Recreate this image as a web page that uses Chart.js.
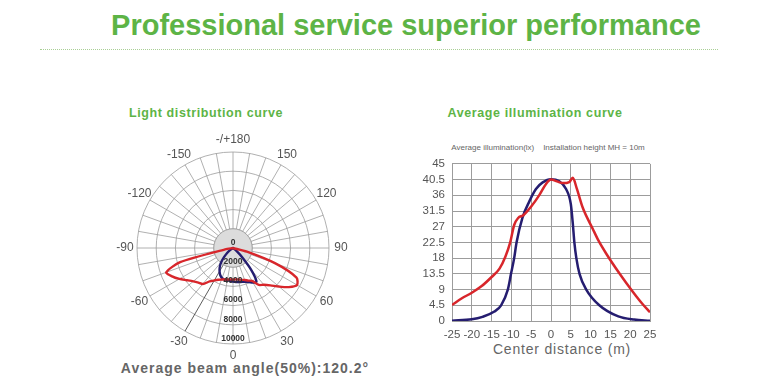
<!DOCTYPE html>
<html><head><meta charset="utf-8">
<script src="https://cdn.jsdelivr.net/npm/chart.js@4.4.1/dist/chart.umd.min.js"></script>
<style>
body{margin:0;width:780px;height:388px;background:#fff;position:relative;overflow:hidden;font-family:"Liberation Sans",Arial,sans-serif}
.t{position:absolute;white-space:pre;transform:translate(-50%,-50%);line-height:1}
#title{left:406px;top:25px;font-size:29px;font-weight:bold;color:#5db446}
#dots{position:absolute;left:40px;top:49px;width:678px;border-top:1px dotted #a9cf96}
.sub{font-size:12.5px;font-weight:bold;color:#5db446;letter-spacing:0.6px}
#note{left:548px;top:148px;font-size:8px;color:#666}
#xt{left:562px;top:349px;font-size:14px;color:#666;letter-spacing:0.8px}
#beam{left:245px;top:368px;font-size:14px;font-weight:bold;color:#666;letter-spacing:1px}
#polarBox{position:absolute;left:103px;top:128px;width:260px;height:240px}
#lineBox{position:absolute;left:400px;top:150px;width:265px;height:200px}
</style></head><body>
<div class="t" id="title">Professional service superior performance</div>
<div id="dots"></div>
<div class="t sub" style="left:206px;top:113px">Light distribution curve</div>
<div class="t sub" style="left:535px;top:113px">Average illumination curve</div>
<div class="t" id="note">Average illumination(lx)    Installation height MH = 10m</div>
<div class="t" id="xt">Center distance (m)</div>
<div class="t" id="beam">Average beam angle(50%):120.2°</div>
<div id="polarBox"><canvas id="polar" width="260" height="240"></canvas></div>
<div id="lineBox"><canvas id="line" width="265" height="200"></canvas></div>
<script>
// ---------- Light distribution (polar) data ----------
const angles = [180,175,170,165,160,155,150,145,140,135,130,125,120,115,110,105,100,95,90,85,80,75,70,65,60,55,50,45,40,35,30,25,20,15,10,5,0,-5,-10,-15,-20,-25,-30,-35,-40,-45,-50,-55,-60,-65,-70,-75,-80,-85,-90,-95,-100,-105,-110,-115,-120,-125,-130,-135,-140,-145,-150,-155,-160,-165,-170,-175];
const angleTickLabels = ['-/+180','150','120','90','60','30','0','-30','-60','-90','-120','-150'];
const angleTickValues = [180,150,120,90,60,30,0,-30,-60,-90,-120,-150];
const radialTicks = [0,2000,4000,6000,8000,10000];
const redC0 = [0,0,0,0,0,0,0,0,0,0,0,0,0,0,0,0,0,0,0,0,
  0,1500,4700,7300,7700,7100,6250,5500,5000,4700,3950,3750,3540,3440,3330,3280,
  3280,3280,3330,3400,3500,3650,3900,4250,4900,5100,5400,5850,6450,7000,7400,5700,830,
  0,0,0,0,0,0,0,0,0,0,0,0,0,0,0,0,0,0];
const blueC90 = [0,0,0,0,0,0,0,0,0,0,0,0,0,0,0,0,0,0,0,0,0,0,0,0,0,
  0,500,1350,2900,4270,4170,3900,3750,3650,3600,3550,
  3500,3440,3400,3400,3330,3130,2800,2400,1900,1300,800,300,
  0,0,0,0,0,0,0,0,0,0,0,0,0,0,0,0,0,0,0,0,0,0,0,0];

// ---------- Average illumination data ----------
const xTicks = [-25,-20,-15,-10,-5,0,5,10,15,20,25];
const yTicks = [0,4.5,9,13.5,18,22.5,27,31.5,36,40.5,45];
const redX = [-25,-22.5,-20,-17.5,-15,-13,-11.5,-10.3,-9.3,-8.3,-7,-5,-3,-1.3,0,1.5,3,4.6,5.5,6.5,8,10.5,12,14,17.3,20.7,23,25];
const redY = [4.6,6.5,8.1,10.0,12.6,15.0,18.5,22.5,27.5,29.5,30.3,32.8,36.0,39.2,40.5,40.0,39.5,39.8,41.0,38.0,32.5,26.5,23.0,19.2,13.6,8.3,5.0,2.5];
const blueX = [-25,-20,-17.3,-14.3,-12.6,-10.9,-10.1,-9.3,-8.7,-7.2,-5.5,-3.8,-2.1,0,2,3.8,5,5.5,5.9,6.4,7.2,8.9,12.2,17,21,25];
const blueY = [0.1,0.5,1.2,2.7,4.5,9,13.5,18,22.5,29.6,34.2,37.8,39.7,40.6,40.1,37.8,33.5,28,22.5,18,13.5,9,4.5,1.3,0.4,0.1];

const RED = '#d8262b', BLUE = '#251d70', GRID = '#9c9c9c', TXT = '#555';
const FONT = '"Liberation Sans", Arial, sans-serif';

const polarDecor = {
  id: 'polarDecor',
  beforeDatasetsDraw(chart) {
    const s = chart.scales.r, ctx = chart.ctx;
    const r2 = s.getDistanceFromCenterForValue(radialTicks[1]);
    ctx.save();
    ctx.beginPath();
    ctx.arc(s.xCenter, s.yCenter, r2, 0, Math.PI * 2);
    ctx.fillStyle = '#dcdcdc';
    ctx.fill();
    ctx.strokeStyle = GRID; ctx.lineWidth = 0.8; ctx.stroke();
    ctx.restore();
  },
  afterDraw(chart) {
    const s = chart.scales.r, ctx = chart.ctx;
    ctx.save();
    ctx.textAlign = 'center'; ctx.textBaseline = 'middle';
    ctx.fillStyle = '#333';
    ctx.font = 'bold 8.5px ' + FONT;
    radialTicks.forEach(v => {
      const d = s.getDistanceFromCenterForValue(v);
      ctx.fillText(String(v), s.xCenter, s.yCenter + d - 5.5);
    });
    ctx.fillStyle = TXT;
    ctx.font = '12px ' + FONT;
    angleTickValues.forEach((a, k) => {
      const idx = angles.indexOf(a);
      const p = s.getPointPosition(idx, s.drawingArea + 12);
      ctx.fillText(angleTickLabels[k], p.x, p.y);
    });
    ctx.restore();
  }
};

new Chart(document.getElementById('polar'), {
  type: 'radar',
  data: {
    labels: angles,
    datasets: [
      { label: 'C0-180', data: redC0, borderColor: RED, borderWidth: 2.4, fill: false, pointRadius: 0, tension: 0.25 },
      { label: 'C90-270', data: blueC90, borderColor: BLUE, borderWidth: 2.4, fill: false, pointRadius: 0, tension: 0.25 }
    ]
  },
  options: {
    responsive: false, animation: false, devicePixelRatio: 1,
    layout: { padding: { left: 34, right: 34, top: 24, bottom: 24 } },
    plugins: { legend: { display: false }, tooltip: { enabled: false } },
    elements: { line: { borderJoinStyle: 'round' } },
    scales: {
      r: {
        min: 0, max: 10000,
        afterBuildTicks(sc) { sc.ticks = radialTicks.map(v => ({ value: v })); },
        ticks: { display: false },
        grid: { circular: true, color: GRID, lineWidth: 0.8 },
        angleLines: {
          display: true,
          color: c => (angles[c.index] === -30 ? '#333' : GRID),
          lineWidth: c => (angles[c.index] % 10 === 0 ? 0.8 : 0)
        },
        pointLabels: { display: false }
      }
    }
  },
  plugins: [polarDecor]
});

new Chart(document.getElementById('line'), {
  type: 'line',
  data: {
    datasets: [
      { label: 'C0-180', data: redX.map((x, i) => ({ x, y: redY[i] })), borderColor: RED, borderWidth: 2.5, pointRadius: 0, cubicInterpolationMode: 'monotone' },
      { label: 'C90-270', data: blueX.map((x, i) => ({ x, y: blueY[i] })), borderColor: BLUE, borderWidth: 2.5, pointRadius: 0, cubicInterpolationMode: 'monotone' }
    ]
  },
  options: {
    responsive: false, animation: false, devicePixelRatio: 1,
    layout: { padding: { left: 0, right: 15, top: 7, bottom: 9 } },
    plugins: { legend: { display: false }, tooltip: { enabled: false } },
    scales: {
      x: {
        type: 'linear', min: -25, max: 25,
        afterBuildTicks(sc) { sc.ticks = xTicks.map(v => ({ value: v })); },
        afterFit(sc) { sc.height = 20; },
        grid: { color: GRID, lineWidth: 1, drawTicks: false },
        border: { color: GRID },
        ticks: { padding: 7, color: TXT, font: { size: 11.5, family: FONT }, maxRotation: 0, autoSkip: false }
      },
      y: {
        min: 0, max: 45,
        afterBuildTicks(sc) { sc.ticks = yTicks.map(v => ({ value: v })); },
        afterFit(sc) { sc.width = 52; },
        grid: { color: GRID, lineWidth: 1, drawTicks: false },
        border: { color: GRID },
        ticks: { padding: 7, color: TXT, font: { size: 11.5, family: FONT }, autoSkip: false }
      }
    }
  }
});
</script>
</body></html>
